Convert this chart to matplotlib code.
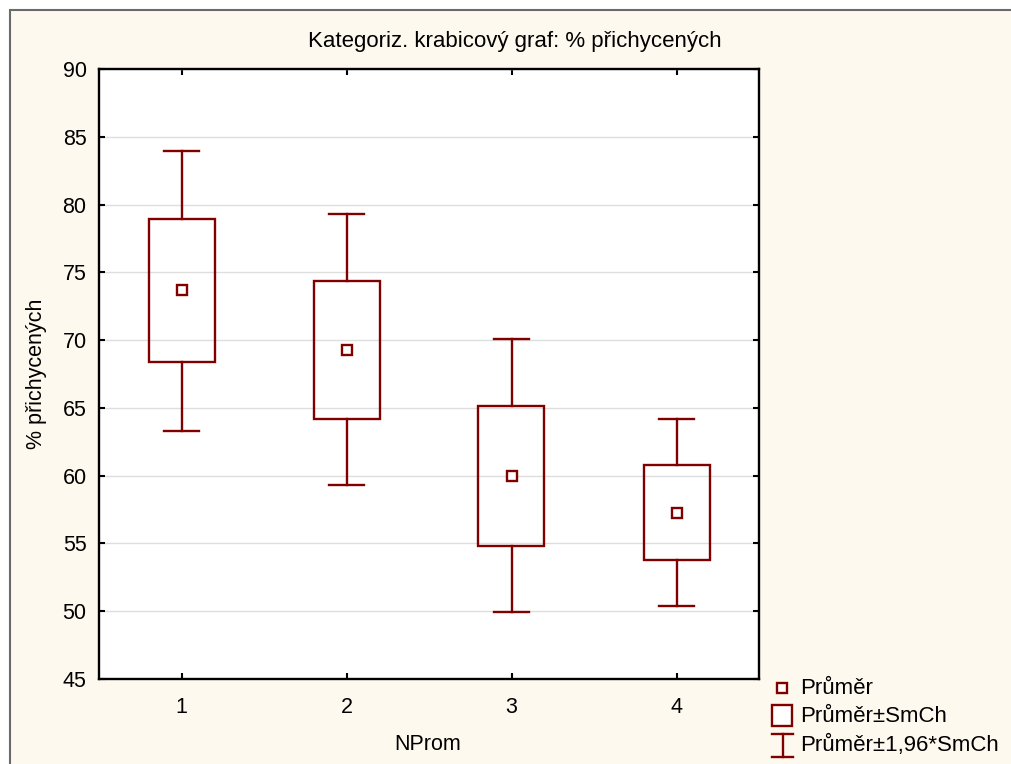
import matplotlib
matplotlib.use("Agg")
import matplotlib.pyplot as plt
from matplotlib.patches import Rectangle
from matplotlib.lines import Line2D

categories = ["1", "2", "3", "4"]
means = [73.7, 69.27, 59.98, 57.25]
box_low = [68.39, 64.18, 54.81, 53.78]
box_high = [78.93, 74.36, 65.14, 60.79]
whisk_low = [63.3, 59.31, 49.94, 50.39]
whisk_high = [83.95, 79.30, 70.08, 64.18]
yticks = [45, 50, 55, 60, 65, 70, 75, 80, 85, 90]

title = "Kategoriz. krabicový graf: % přichycených"
xlabel = "NProm"
ylabel = "% přichycených"
legend_labels = ["Průměr", "Průměr±SmCh", "Průměr±1,96*SmCh"]

plt.rcParams['font.family'] = ['Liberation Sans', 'DejaVu Sans']

RED = "#800000"
CREAM = "#FEF9EE"
W, H = 1011, 764

fig = plt.figure(figsize=(W / 100, H / 100), dpi=100)
fig.patch.set_facecolor("white")
panel = Rectangle((10 / W, -0.01), 1.02, (H - 10) / H + 0.01, transform=fig.transFigure,
                  facecolor=CREAM, edgecolor="#6a6a6a", linewidth=1.5, zorder=-10)
fig.patches.append(panel)

ax = fig.add_axes([99 / W, 1 - 679 / H, (759 - 99) / W, (679 - 69) / H])
ax.set_facecolor("white")

x = list(range(1, len(categories) + 1))
bw = 0.4
cw = 0.21
for i, xi in enumerate(x):
    ax.plot([xi, xi], [box_high[i], whisk_high[i]], color=RED, lw=1.7, zorder=3)
    ax.plot([xi, xi], [whisk_low[i], box_low[i]], color=RED, lw=1.7, zorder=3)
    ax.plot([xi - cw / 2, xi + cw / 2], [whisk_high[i]] * 2, color=RED, lw=1.7, zorder=3)
    ax.plot([xi - cw / 2, xi + cw / 2], [whisk_low[i]] * 2, color=RED, lw=1.7, zorder=3)
    ax.add_patch(Rectangle((xi - bw / 2, box_low[i]), bw, box_high[i] - box_low[i],
                           facecolor="none", edgecolor=RED, lw=1.7, zorder=3))
ax.plot(x, means, linestyle="none", marker="s", markersize=6.5, markerfacecolor="white",
        markeredgecolor=RED, markeredgewidth=1.7, zorder=4)

ax.set_xlim(0.5, 4.5)
ax.set_ylim(45, 90)
ax.set_xticks(x)
ax.set_xticklabels(categories)
ax.set_yticks(yticks)
ax.yaxis.grid(True, color="#dedede", lw=1)
ax.set_axisbelow(True)
ax.tick_params(direction="in", length=4, width=1.5, labelsize=15.5, top=True, right=True,
               colors="black")
ax.tick_params(axis="x", pad=13)
ax.tick_params(axis="y", pad=9)
for s in ax.spines.values():
    s.set_linewidth(1.7)
    s.set_color("black")

fig.text(515 / W, 1 - 42 / H, title, ha="center", va="center", fontsize=16)
fig.text(428 / W, 1 - 745 / H, xlabel, ha="center", va="center", fontsize=15.5)
fig.text(37 / W, 1 - 374 / H, ylabel, ha="center", va="center", rotation=90, fontsize=15.5)

def fx(px):
    return px / W

def fy(py):
    return 1 - py / H

fig.add_artist(Line2D([fx(782)], [fy(688)], transform=fig.transFigure, linestyle="none",
                      marker="s", markersize=6.5, markerfacecolor="white",
                      markeredgecolor=RED, markeredgewidth=1.7))
fig.add_artist(Rectangle((fx(772), fy(726)), (792 - 772) / W, (726 - 705) / H,
                         transform=fig.transFigure, facecolor="white", edgecolor=RED, lw=1.7))
for seg in ([(772, 734), (793, 734)], [(782.5, 734), (782.5, 757)], [(772, 757), (793, 757)]):
    fig.add_artist(Line2D([fx(p[0]) for p in seg], [fy(p[1]) for p in seg],
                          transform=fig.transFigure, color=RED, lw=1.7))
for lbl, py in zip(legend_labels, [688, 717, 745]):
    fig.text(fx(800), fy(py), lbl, ha="left", va="center", fontsize=16)

fig.savefig("out.png", dpi=100, facecolor=fig.get_facecolor())
